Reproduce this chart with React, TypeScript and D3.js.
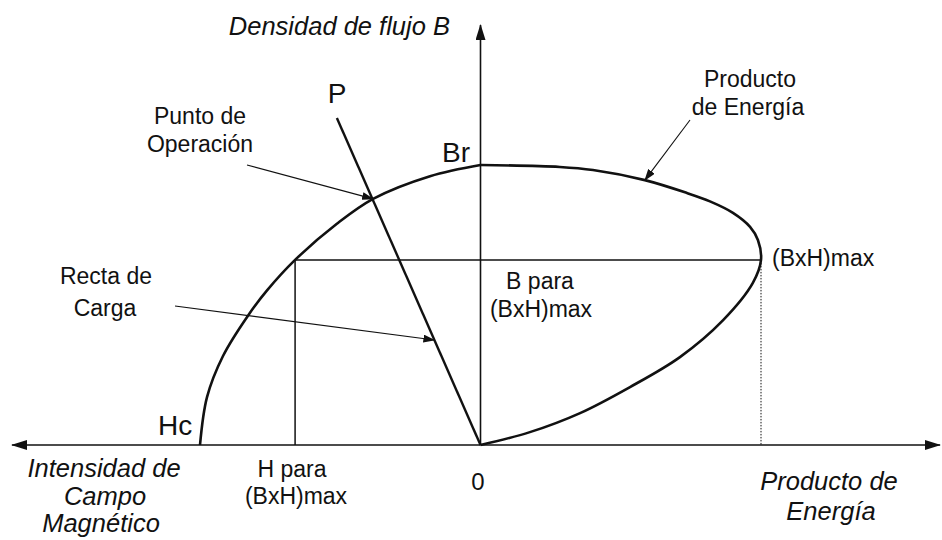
import React from 'react';
import * as d3 from 'd3';

// curva de desmagnetización (H normalizado a Hc, B normalizado a Br)
const demagH = [-1, -0.975, -0.918, -0.829, -0.761, -0.661, -0.512, -0.383, -0.18, 0];
const demagB = [0, 0.171, 0.318, 0.462, 0.552, 0.661, 0.79, 0.879, 0.96, 1];

// curva de producto de energía (BxH normalizado, B)
const energyBH = [0, 0.283, 0.401, 0.586, 0.736, 0.818, 0.9, 0.961, 0.989, 1.0, 0.971, 0.865, 0.711, 0.533, 0.355, 0.176, 0];
const energyB = [1, 0.993, 0.982, 0.946, 0.9, 0.87, 0.829, 0.779, 0.732, 0.661, 0.579, 0.446, 0.314, 0.207, 0.114, 0.046, 0];

const bhMax = { bh: 1.0, b: 0.661, h: -0.661 };
const operatingPoint = { h: -0.383, b: 0.879 };
const loadLineEnd = { h: -0.512, b: 1.168 };
const axisExtent = { xMin: -1.67, xMax: 1.638, yMax: 1.5 };

const W = 942;
const H = 540;
const font = 'Liberation Sans, Arial, sans-serif';
const ink = '#111';

const App = () => {
  const x = d3.scaleLinear().domain([-1, 1]).range([200, 761]);
  const y = d3.scaleLinear().domain([0, 1]).range([445, 165]);

  const line = d3.line<[number, number]>()
    .x(d => x(d[0]))
    .y(d => y(d[1]))
    .curve(d3.curveCatmullRom.alpha(0.5));

  const demag = demagH.map((h, i) => [h, demagB[i]] as [number, number]);
  const energy = energyBH.map((v, i) => [v, energyB[i]] as [number, number]);

  const loadTipB = 0.375;
  const loadTipH = loadLineEnd.h / loadLineEnd.b * loadTipB;

  return (
    <svg width={W} height={H} style={{ position: 'absolute', left: 0, top: 0, background: '#fff' }}>
      <defs>
        <marker id="axisHead" viewBox="0 0 16 10" refX="15" refY="5" markerWidth="16" markerHeight="10" markerUnits="userSpaceOnUse" orient="auto">
          <path d="M0,0 L16,5 L0,10 Z" fill={ink} />
        </marker>
        <marker id="noteHead" viewBox="0 0 12 8" refX="11" refY="4" markerWidth="12" markerHeight="8" markerUnits="userSpaceOnUse" orient="auto">
          <path d="M0,0 L12,4 L0,8 Z" fill={ink} />
        </marker>
      </defs>

      {/* ejes */}
      <line x1={x(0)} y1={y(0)} x2={x(axisExtent.xMin)} y2={y(0)} stroke={ink} strokeWidth={1.6} markerEnd="url(#axisHead)" />
      <line x1={x(0)} y1={y(0)} x2={x(axisExtent.xMax)} y2={y(0)} stroke={ink} strokeWidth={1.6} markerEnd="url(#axisHead)" />
      <line x1={x(0)} y1={y(0)} x2={x(0)} y2={y(axisExtent.yMax)} stroke={ink} strokeWidth={1.6} markerEnd="url(#axisHead)" />

      {/* rectángulo (BxH)max */}
      <line x1={x(bhMax.h)} y1={y(bhMax.b)} x2={x(bhMax.bh)} y2={y(bhMax.b)} stroke={ink} strokeWidth={1.5} />
      <line x1={x(bhMax.h)} y1={y(bhMax.b)} x2={x(bhMax.h)} y2={y(0)} stroke={ink} strokeWidth={1.5} />
      <line x1={x(bhMax.bh)} y1={y(bhMax.b)} x2={x(bhMax.bh)} y2={y(0)} stroke={ink} strokeWidth={1} strokeDasharray="1.5,1.5" />

      {/* curvas */}
      <path d={line(demag) || ''} fill="none" stroke={ink} strokeWidth={2.6} />
      <path d={line(energy) || ''} fill="none" stroke={ink} strokeWidth={2.6} />

      {/* recta de carga */}
      <line x1={x(0)} y1={y(0)} x2={x(loadLineEnd.h)} y2={y(loadLineEnd.b)} stroke={ink} strokeWidth={2.4} />

      {/* flechas de anotación */}
      <line x1={247} y1={165} x2={x(operatingPoint.h)} y2={y(operatingPoint.b)} stroke={ink} strokeWidth={1.1} markerEnd="url(#noteHead)" />
      <line x1={175} y1={306} x2={x(loadTipH)} y2={y(loadTipB)} stroke={ink} strokeWidth={1.1} markerEnd="url(#noteHead)" />
      <line x1={690} y1={120} x2={x(energyBH[3])} y2={y(energyB[3])} stroke={ink} strokeWidth={1.1} markerEnd="url(#noteHead)" />

      {/* textos */}
      <g fontFamily={font} fill={ink}>
        <text x={450} y={35} fontSize={25.5} fontStyle="italic" textAnchor="end">Densidad de flujo B</text>
        <text x={337} y={103} fontSize={28} textAnchor="middle">P</text>
        <text x={442} y={162} fontSize={28}>Br</text>
        <text x={158} y={435} fontSize={28}>Hc</text>
        <text x={478} y={490} fontSize={24} textAnchor="middle">0</text>

        <text x={200} y={124} fontSize={23} textAnchor="middle">Punto de</text>
        <text x={200} y={152} fontSize={23} textAnchor="middle">Operación</text>

        <text x={106} y={284} fontSize={23} textAnchor="middle">Recta de</text>
        <text x={105} y={316} fontSize={23} textAnchor="middle">Carga</text>

        <text x={750} y={87} fontSize={23} textAnchor="middle">Producto</text>
        <text x={748} y={115} fontSize={23} textAnchor="middle">de Energía</text>

        <text x={772} y={266} fontSize={23}>(BxH)max</text>

        <text x={540} y={289} fontSize={23} textAnchor="middle">B para</text>
        <text x={541} y={317} fontSize={23} textAnchor="middle">(BxH)max</text>

        <text x={292} y={477} fontSize={23} textAnchor="middle">H para</text>
        <text x={296} y={504} fontSize={23} textAnchor="middle">(BxH)max</text>

        <text x={104} y={477} fontSize={25.5} fontStyle="italic" textAnchor="middle">Intensidad de</text>
        <text x={105} y={505} fontSize={25.5} fontStyle="italic" textAnchor="middle">Campo</text>
        <text x={101} y={532} fontSize={25.5} fontStyle="italic" textAnchor="middle">Magnético</text>

        <text x={829} y={490} fontSize={25.5} fontStyle="italic" textAnchor="middle">Producto de</text>
        <text x={831} y={520} fontSize={25.5} fontStyle="italic" textAnchor="middle">Energía</text>
      </g>
    </svg>
  );
};

export default App;
